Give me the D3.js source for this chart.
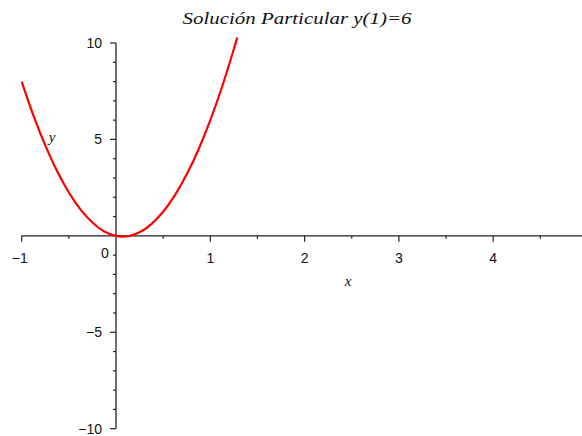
<!DOCTYPE html>
<html>
<head>
<meta charset="utf-8">
<script src="https://cdn.jsdelivr.net/npm/d3@7"></script>
<style>
  html, body { margin: 0; padding: 0; background: #fff; }
  svg { display: block; }
</style>
</head>
<body>
<svg id="chart" width="582" height="436"></svg>
<script>
// Particular solution curve, sampled points (x, y)
const curveX = [-1, -0.875, -0.75, -0.625, -0.5, -0.375, -0.25, -0.125, 0, 0.07, 0.125, 0.25, 0.375, 0.5, 0.625, 0.75, 0.875, 1, 1.125, 1.25, 1.285];
const curveY = [8, 6.23, 4.69, 3.36, 2.25, 1.36, 0.69, 0.23, 0, -0.04, -0.02, 0.19, 0.61, 1.25, 2.11, 3.19, 4.48, 6, 7.73, 9.69, 10.28];

// Axis ticks
const xMajorTicks = [-1, 1, 2, 3, 4, 5];
const xMinorTicks = [-0.5, 0.5, 1.5, 2.5, 3.5, 4.5];
const yMajorTicks = [-10, -5, 5, 10];
const yMinorTicks = [-9, -8, -7, -6, -4, -3, -2, -1, 1, 2, 3, 4, 6, 7, 8, 9];

const titleText = "Solución Particular y(1)=6";
const xName = "x";
const yName = "y";

const svg = d3.select("#chart");

const x = d3.scaleLinear().domain([-1, 5]).range([21.7, 587.5]);
const y = d3.scaleLinear().domain([-10, 10]).range([428.7, 43]);

const axisColor = "#222";
const labelFont = "'Liberation Sans', Arial, sans-serif";
const fmt = v => (v < 0 ? "\u2212" + Math.abs(v) : String(v));

// Horizontal axis through y = 0
const gx = svg.append("g").attr("transform", `translate(0,${y(0)})`);
gx.append("line")
  .attr("x1", x(-1)).attr("x2", 582)
  .attr("stroke", axisColor).attr("stroke-width", 1.3);
gx.selectAll("line.major").data(xMajorTicks).join("line")
  .attr("class", "major")
  .attr("x1", d => x(d)).attr("x2", d => x(d))
  .attr("y1", 0).attr("y2", 6)
  .attr("stroke", axisColor).attr("stroke-width", 1.2);
gx.selectAll("line.minor").data(xMinorTicks).join("line")
  .attr("class", "minor")
  .attr("x1", d => x(d)).attr("x2", d => x(d))
  .attr("y1", 0).attr("y2", 3)
  .attr("stroke", axisColor).attr("stroke-width", 1.2);
gx.selectAll("text").data(xMajorTicks).join("text")
  .attr("x", d => x(d) - (d < 0 ? 2 : 0))
  .attr("y", 27)
  .attr("text-anchor", "middle")
  .attr("font-family", labelFont)
  .attr("font-size", 14)
  .attr("fill", "#111")
  .text(fmt);

// Origin label
svg.append("text")
  .attr("x", 105).attr("y", y(0) + 22)
  .attr("text-anchor", "middle")
  .attr("font-family", labelFont)
  .attr("font-size", 14)
  .attr("fill", "#111")
  .text("0");

// Vertical axis through x = 0
const gy = svg.append("g").attr("transform", `translate(${x(0)},0)`);
gy.append("line")
  .attr("y1", y(-10)).attr("y2", y(10))
  .attr("stroke", axisColor).attr("stroke-width", 1.3);
gy.selectAll("line.major").data(yMajorTicks).join("line")
  .attr("class", "major")
  .attr("y1", d => y(d)).attr("y2", d => y(d))
  .attr("x1", 0).attr("x2", -6)
  .attr("stroke", axisColor).attr("stroke-width", 1.2);
gy.selectAll("line.minor").data(yMinorTicks).join("line")
  .attr("class", "minor")
  .attr("y1", d => y(d)).attr("y2", d => y(d))
  .attr("x1", 0).attr("x2", -3)
  .attr("stroke", axisColor).attr("stroke-width", 1.2);
gy.selectAll("text").data(yMajorTicks).join("text")
  .attr("x", -14)
  .attr("y", d => y(d) + 5)
  .attr("text-anchor", "end")
  .attr("font-family", labelFont)
  .attr("font-size", 14)
  .attr("fill", "#111")
  .text(fmt);

// Solution curve
const pts = curveX.map((v, i) => [v, curveY[i]]);
svg.append("path")
  .datum(pts)
  .attr("fill", "none")
  .attr("stroke", "#f00")
  .attr("stroke-width", 2.2)
  .attr("stroke-linejoin", "round")
  .attr("d", d3.line().x(d => x(d[0])).y(d => y(d[1])).curve(d3.curveNatural));

// Axis names
svg.append("text")
  .attr("x", 348).attr("y", 286)
  .attr("text-anchor", "middle")
  .attr("font-family", "'Liberation Serif', 'Times New Roman', serif")
  .attr("font-style", "italic")
  .attr("font-size", 15)
  .attr("fill", "#111")
  .text(xName);
svg.append("text")
  .attr("x", 52).attr("y", 142)
  .attr("text-anchor", "middle")
  .attr("font-family", "'Liberation Serif', 'Times New Roman', serif")
  .attr("font-style", "italic")
  .attr("font-size", 15)
  .attr("fill", "#111")
  .text(yName);

// Title
svg.append("text")
  .attr("x", 297).attr("y", 24)
  .attr("text-anchor", "middle")
  .attr("font-family", "'Liberation Serif', 'Times New Roman', serif")
  .attr("font-style", "italic")
  .attr("font-size", 16)
  .attr("fill", "#111")
  .attr("textLength", 229)
  .attr("lengthAdjust", "spacingAndGlyphs")
  .text(titleText);
</script>
</body>
</html>
